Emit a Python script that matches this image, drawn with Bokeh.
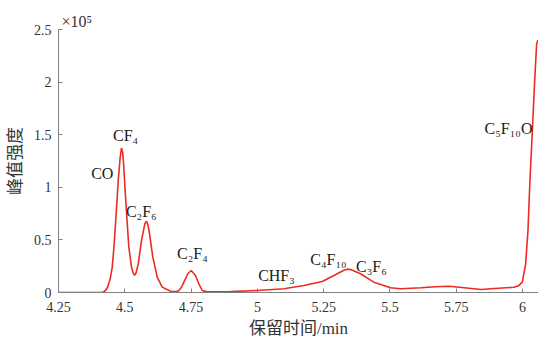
from bokeh.plotting import figure
from bokeh.models import FixedTicker, CustomJSTickFormatter, Range1d, ColumnDataSource
from bokeh.core.properties import value
from bokeh.embed import file_html
from bokeh.resources import INLINE

# Retention time (min) and peak intensity (x10^5)
time = [4.25, 4.41, 4.42, 4.4273, 4.435, 4.445, 4.4526, 4.459, 4.465, 4.4705, 4.4752,
        4.4827, 4.4876, 4.492, 4.4963, 4.5005, 4.5054, 4.5105, 4.5152, 4.5254, 4.531,
        4.5367, 4.543, 4.5506, 4.5631, 4.5755, 4.5819, 4.5875, 4.5933, 4.6057, 4.6223,
        4.6412, 4.6725, 4.695, 4.704, 4.7136, 4.7227, 4.7377, 4.7505, 4.7668, 4.7792,
        4.792, 4.81, 4.9, 4.9995, 5.10, 5.175, 5.2447, 5.2885, 5.3262, 5.339, 5.3515,
        5.389, 5.439, 5.502, 5.54, 5.617, 5.67, 5.724, 5.78, 5.844, 5.88, 5.9675, 5.985,
        5.999, 6.0116, 6.0203, 6.0278, 6.0369, 6.0456, 6.053, 6.058]
intensity = [0.0, 0.0, 0.005, 0.019, 0.05, 0.13, 0.241, 0.43, 0.653, 0.87, 1.065,
             1.286, 1.375, 1.33, 1.191, 1.0, 0.811, 0.61, 0.431, 0.241, 0.19,
             0.162, 0.19, 0.272, 0.495, 0.653, 0.678, 0.64, 0.558, 0.336, 0.146,
             0.051, 0.012, 0.008, 0.019, 0.05, 0.098, 0.178, 0.209, 0.162, 0.083,
             0.019, 0.006, 0.008, 0.019, 0.035, 0.067, 0.105, 0.162, 0.212, 0.222, 0.219,
             0.178, 0.098, 0.045, 0.035, 0.045, 0.055, 0.06, 0.045, 0.028, 0.035, 0.05, 0.065,
             0.098, 0.273, 0.589, 1.065, 1.54, 2.015, 2.364, 2.40]

peak_names = ["CO", "CF₄", "C₂F₆", "C₂F₄", "CHF₃", "C₄F₁₀", "C₃F₆", "C₅F₁₀O"]
peak_label_x = [4.415, 4.503, 4.562, 4.755, 5.072, 5.268, 5.43, 5.947]
peak_label_y = [1.13, 1.49, 0.77, 0.37, 0.16, 0.31, 0.25, 1.56]

x_ticks = [4.25, 4.5, 4.75, 5.0, 5.25, 5.5, 5.75, 6.0]
y_ticks = [0, 0.5, 1.0, 1.5, 2.0, 2.5]

SERIF = "Liberation Serif"

p = figure(width=538, height=342, output_backend="svg", toolbar_location=None,
           x_range=Range1d(4.25, 6.06), y_range=Range1d(0, 2.5),
           min_border_left=58, min_border_right=0, min_border_bottom=50, min_border_top=29)
p.title.text = "×10⁵"
p.title.align = "left"
p.title.text_font = SERIF
p.title.text_font_size = "16px"
p.title.text_font_style = "normal"
p.title.text_color = "#333333"
p.title.offset = 3
p.title.standoff = 0

p.outline_line_color = None
p.background_fill_color = "white"
p.xgrid.visible = False
p.ygrid.visible = False

p.line(time, intensity, line_color="#ee2a24", line_width=1.6)

src = ColumnDataSource(dict(x=peak_label_x, y=peak_label_y, t=peak_names))
p.text(x="x", y="y", text="t", source=src, text_font=value(SERIF),
       text_font_size="16px", text_align="center", text_baseline="middle",
       text_color="#1a1a1a")

fmt = CustomJSTickFormatter(code="return String(tick);")
for ax, ticks in ((p.xaxis[0], x_ticks), (p.yaxis[0], y_ticks)):
    ax.ticker = FixedTicker(ticks=ticks)
    ax.formatter = fmt
    ax.minor_tick_line_color = None
    ax.major_tick_in = 4
    ax.major_tick_out = 0
    ax.axis_line_color = "#808080"
    ax.major_tick_line_color = "#808080"
    ax.major_label_text_font = SERIF
    ax.major_label_text_font_size = "14px"
    ax.major_label_text_color = "#333333"
    ax.axis_label_text_font = "Liberation Serif, Noto Sans CJK SC"
    ax.axis_label_text_font_size = "17px"
    ax.axis_label_text_font_style = "normal"
    ax.axis_label_text_color = "#333333"

p.xaxis.axis_label = "保留时间/min"
p.yaxis.axis_label = "峰值强度"
p.xaxis.major_label_standoff = 9
p.yaxis.major_label_standoff = 7
p.xaxis.axis_label_standoff = 4
p.yaxis.axis_label_standoff = 6

open("out.html", "w").write(file_html(p, INLINE))
